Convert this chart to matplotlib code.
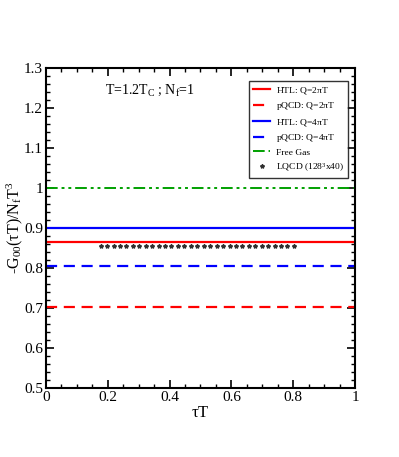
import matplotlib
matplotlib.use("Agg")
import matplotlib.pyplot as plt
from matplotlib.ticker import MultipleLocator, FuncFormatter

plt.rcParams['font.family'] = ['Liberation Serif', 'DejaVu Serif']
plt.rcParams['mathtext.fontset'] = 'custom'
plt.rcParams['mathtext.rm'] = 'Liberation Serif'
plt.rcParams['mathtext.it'] = 'Liberation Serif'

x_range = [0.0, 1.0]
htl_2pi = 0.865
pqcd_2pi = 0.703
htl_4pi = 0.901
pqcd_4pi = 0.805
free_gas = 1.0
lqcd_x = [0.177, 0.198, 0.219, 0.240, 0.260, 0.281, 0.302, 0.323, 0.344, 0.365,
          0.385, 0.406, 0.427, 0.448, 0.469, 0.490, 0.510, 0.531, 0.552, 0.573,
          0.594, 0.615, 0.635, 0.656, 0.677, 0.698, 0.719, 0.740, 0.760, 0.781, 0.801]
lqcd_y = [0.855] * len(lqcd_x)

fig = plt.figure(figsize=(3.99, 4.57), dpi=100)
ax = fig.add_axes([0.115, 0.151, 0.775, 0.700])

ax.plot(x_range, [htl_2pi]*2, color='#ff0000', lw=1.6, label=r'HTL: Q=2$\pi$T')
ax.plot(x_range, [pqcd_2pi]*2, color='#ff0000', lw=1.6, ls=(0, (5, 3)), label=r'pQCD: Q=2$\pi$T')
ax.plot(x_range, [htl_4pi]*2, color='#0000ff', lw=1.6, label=r'HTL: Q=4$\pi$T')
ax.plot(x_range, [pqcd_4pi]*2, color='#0000ff', lw=1.6, ls=(0, (5, 3)), label=r'pQCD: Q=4$\pi$T')
ax.plot(x_range, [free_gas]*2, color='#00a000', lw=1.4, ls=(0, (6, 2, 1.5, 2, 1.5, 2)), label='Free Gas')
ax.plot(lqcd_x, lqcd_y, ls='none', marker='*', ms=3.0, color='#303030',
        label=r'LQCD (128$^3$x40)')

ax.set_xlim(0, 1)
ax.set_ylim(0.5, 1.3)
ax.xaxis.set_major_locator(MultipleLocator(0.2))
ax.xaxis.set_minor_locator(MultipleLocator(0.05))
ax.yaxis.set_major_locator(MultipleLocator(0.1))
ax.yaxis.set_minor_locator(MultipleLocator(0.02))
ax.xaxis.set_major_formatter(FuncFormatter(lambda v, p: '%g' % round(v, 2)))
ax.yaxis.set_major_formatter(FuncFormatter(lambda v, p: '%g' % round(v, 2)))
ax.tick_params(which='both', direction='in', top=True, right=True, labelsize=11, pad=2)
ax.tick_params(which='major', length=6, width=1.2)
ax.tick_params(which='minor', length=3, width=1)
for s in ax.spines.values():
    s.set_linewidth(1.5)

ax.set_xlabel(r'$\tau$T', fontsize=12, labelpad=1)
ax.set_ylabel(r'-G$_{00}$($\tau$T)/N$_f$T$^3$', fontsize=11.5)
ax.yaxis.set_label_coords(-0.066, 0.5)

ax.text(0.19, 0.955, r'T=1.2T$_C$ ; N$_f$=1', transform=ax.transAxes, fontsize=10,
        ha='left', va='top')

leg = ax.legend(loc='upper right', fontsize=6.8, frameon=True, fancybox=False,
                edgecolor='black', handlelength=1.8, borderpad=0.45, labelspacing=0.45,
                handletextpad=0.6, bbox_to_anchor=(0.993, 0.975))
leg.get_frame().set_linewidth(1.0)

fig.savefig('out.png', dpi=100)
